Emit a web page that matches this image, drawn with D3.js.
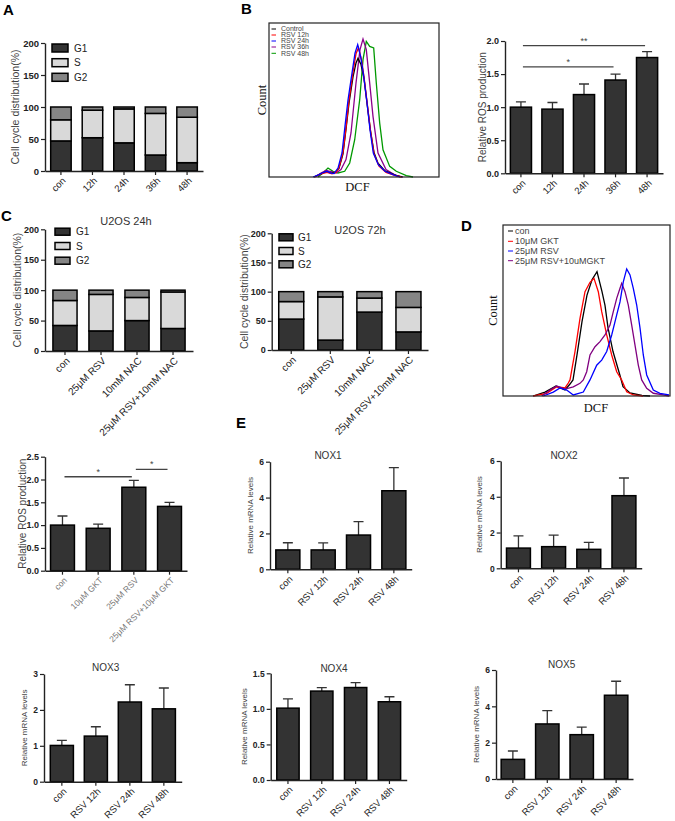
<!DOCTYPE html>
<html><head><meta charset="utf-8">
<script src="https://cdn.jsdelivr.net/npm/d3@7"></script>
<style>body{margin:0;background:#fff}</style>
</head><body>
<svg id="fig" width="675" height="821"></svg>
<script>
// ---------------- DATA ----------------
// Panel A: cell cycle over time
const timeCats = ["con","12h","24h","36h","48h"];
const phaseNames = ["G1","S","G2"];
const aG1 = [47,52,44,25,13];
const aS  = [33,43,53,65,71];
const aG2 = [20,5,3,10,16];

// Panel B: flow histograms (DCF arbitrary units, count)
const flowBNames = ["Control","RSV  12h","RSV  24h","RSV  36h","RSV  48h"];
const flowBControl = [[45,0],[52,2],[57,3.5],[62,2.5],[66,3],[70,5.5],[74,15],[77,31],[80,48],[84,65],[87,74],[89,77],[92,73],[95,64],[98,48],[101.5,30],[105,16],[109,9],[116,4],[125,1.5],[133,0]];
const flowB12h = [[45,0],[52,2],[58,3],[63,2],[67,3],[70,6],[74,16],[77,32],[80,50],[84,68],[87,80],[89.5,84],[92.5,76],[95,65],[98,49],[101.5,30],[105,15],[110,7],[117,3],[125,1.2],[132,0]];
const flowB24h = [[44,0],[50,1.5],[53,2.6],[58,3.7],[62,2.5],[65,2.2],[69,5.8],[73,15.6],[76,33],[79,50],[83,67.5],[86,80.5],[88.7,86],[91.7,78],[94.3,67.5],[97.7,50],[101,30.7],[104.3,15.6],[109.3,8],[116,3.7],[124,1.5],[131,0]];
const flowB36h = [[46,0],[52,2.5],[57,4.3],[62,3.5],[67,2.6],[72,4.8],[77,11.3],[82,28.6],[87,61],[91,82.7],[94,89.6],[97.3,82.7],[100.7,61],[104,39.4],[109,15.6],[117,4.8],[127,0.9],[134,0]];
const flowB48h = [[49,0],[54,2.6],[59,5.8],[64,3.7],[69,2.6],[75.7,3.7],[80.7,9.1],[85.7,24.2],[90.7,50.2],[94,76.2],[97.3,88],[100.7,84.8],[104.7,83.8],[107.3,61],[110.7,35],[114,17.7],[120.7,6.9],[127.3,3.7],[137.3,0.9],[144,0]];

// Panel B: relative ROS over time
const bRos   = [1.00,0.97,1.19,1.41,1.75];
const bRosSd = [0.08,0.10,0.16,0.09,0.09];

// Panel C: cell cycle with NAC
const cCats = ["con","25μM RSV","10mM NAC","25μM RSV+10mM NAC"];
const c24G1 = [42,33,50,37];
const c24S  = [41,60,38,60];
const c24G2 = [17,7,12,3];
const c72G1 = [53,17,65,31];
const c72S  = [30,74,24,42];
const c72G2 = [17,9,11,27];

// Panel D: flow histograms with GKT
const flowDNames = ["con","10μM GKT","25μM RSV","25μM RSV+10uMGKT"];
const flowDCon = [[30,0],[42,2.3],[53,5.8],[62,3.5],[67,7],[70,9.4],[74,24],[79,43.5],[84,59],[89,68],[94,72.7],[99,61],[102,53],[105,40],[110,26],[117,12],[120,5.4],[127,1.8],[139,0.3],[147,0]];
const flowDGkt = [[30.3,0],[43.7,1.6],[53.7,5.4],[62,4.7],[65.3,7.6],[67,9.4],[72,26],[77,45.4],[82,61],[87,66.5],[91,68.8],[95.3,61],[98.7,49.3],[103.7,35.7],[108.7,24],[113.7,14.2],[118.7,9.4],[123.7,2.5],[130.3,0.6],[140,0]];
const flowDRsv = [[40.3,0],[50.3,2.3],[57,4.7],[63.7,3.5],[70.3,0.6],[80.3,2.3],[87,9.4],[93.7,18],[98.7,21],[103.7,26],[108.7,35.7],[113.7,47.4],[117,55],[120.3,66.8],[123.7,74.3],[127,70.8],[130.3,63],[133.7,53.2],[137,39.8],[140.3,24],[143.7,12.3],[150.3,3.5],[157,1.6],[166,0.6]];
const flowDRsvGkt = [[38.7,0],[47,3.5],[53.7,5.8],[62,4],[70.3,5.3],[77,7.4],[80.3,9.4],[83.7,14.2],[87,24],[92,28.8],[97,31.8],[102,35.7],[107,41.5],[110.3,49.3],[113.7,57.1],[117,63],[118.7,65.9],[122,61],[125.3,53.2],[128.7,41.5],[132,29.8],[135.3,18.1],[138.7,9.4],[143.7,4.5],[150.3,1.6],[160.3,0.6],[166,0]];

// ROS with GKT
const gktCats = ["con","10μM GKT","25μM RSV","25μM RSV+10μM GKT"];
const gktRos   = [1.00,0.93,1.83,1.41];
const gktRosSd = [0.20,0.09,0.15,0.09];

// Panel E: NOX mRNA
const noxCats = ["con","RSV 12h","RSV 24h","RSV 48h"];
const nox1 = [1.08,1.08,1.91,4.38], nox1Sd = [0.40,0.39,0.75,1.29];
const nox2 = [1.13,1.21,1.06,4.06], nox2Sd = [0.68,0.65,0.39,0.99];
const nox3 = [1.01,1.27,2.22,2.03], nox3Sd = [0.14,0.26,0.48,0.58];
const nox4 = [1.01,1.25,1.30,1.10], nox4Sd = [0.13,0.05,0.07,0.07];
const nox5 = [1.08,3.03,2.44,4.61], nox5Sd = [0.46,0.73,0.42,0.77];

// ---------------- DRAWING ----------------
const svg = d3.select("#fig");
svg.append("rect").attr("width",675).attr("height",821).attr("fill","#fff");
const SANS = "'Liberation Sans', Arial, sans-serif";
const SERIF = "'Liberation Serif', 'Times New Roman', serif";
const BAR = "#333333", LIGHT = "#d9d9d9", MID = "#858585";

function panelLetter(t,x,y){
  svg.append("text").attr("x",x).attr("y",y).text(t)
    .attr("font-family",SANS).attr("font-weight","bold").attr("font-size",15).attr("fill","#000");
}

function frame(L){
  const x = d3.scaleBand().domain(L.cats).range([L.xL, L.xR])
    .paddingInner(L.pi ?? 0.33).paddingOuter(L.po ?? 0.17);
  const y = d3.scaleLinear().domain([0, L.max]).range([L.yB, L.yT]);
  return {x, y};
}

function drawAxes(g, L, x, y){
  const ya = g.append("g").attr("transform",`translate(${L.xL},0)`)
    .call(d3.axisLeft(y).tickValues(L.ticks).tickFormat(L.fmt).tickSizeInner(4).tickSizeOuter(0).tickPadding(2));
  const xa = g.append("g").attr("transform",`translate(0,${L.yB})`)
    .call(d3.axisBottom(x).tickSizeInner(4).tickSizeOuter(0).tickFormat(""));
  [ya, xa].forEach(a => {
    a.select(".domain").attr("stroke","#222").attr("stroke-width",1.4);
    a.selectAll(".tick line").attr("stroke","#222").attr("stroke-width",1.2);
  });
  ya.selectAll(".tick text").attr("font-family",SANS).attr("font-weight","bold")
    .attr("font-size",L.tickFs || 9).attr("fill","#222");
  g.selectAll(null).data(L.cats).join("text")
    .attr("transform", d => `translate(${x(d)+x.bandwidth()/2+3},${L.yB+8}) rotate(-45)`)
    .attr("text-anchor","end").attr("dy","0.35em")
    .attr("font-family",SANS).attr("font-size",L.xFs || 9).attr("fill",L.xColor || "#222")
    .text(d => d);
  g.append("text").attr("transform",`translate(${L.ytX},${(L.yB+L.yT)/2}) rotate(-90)`)
    .attr("text-anchor","middle").attr("dy","0.35em")
    .attr("font-family",SANS).attr("font-size",L.ytFs || 10).attr("fill","#444").text(L.ytitle);
  if (L.title) g.append("text").attr("x",L.titleX).attr("y",L.titleY).attr("text-anchor","middle")
    .attr("font-family",SANS).attr("font-size",L.titleFs || 10).attr("fill","#333").text(L.title);
}

function barChart(L, vals, sds, sigs){
  const g = svg.append("g");
  const {x, y} = frame(L);
  const rows = L.cats.map((c,i) => ({c, v: vals[i], sd: sds[i]}));
  const cap = 5;
  g.selectAll(null).data(rows).join("path")
    .attr("d", d => {
      const cx = x(d.c) + x.bandwidth()/2;
      return `M${cx},${y(d.v)}V${y(d.v+d.sd)}M${cx-cap},${y(d.v+d.sd)}H${cx+cap}`;
    })
    .attr("stroke","#333").attr("stroke-width",1.3).attr("fill","none");
  g.selectAll(null).data(rows).join("rect")
    .attr("x", d => x(d.c)).attr("width", x.bandwidth())
    .attr("y", d => y(d.v)).attr("height", d => y(0) - y(d.v))
    .attr("fill", BAR).attr("stroke","#000").attr("stroke-width",1.5);
  drawAxes(g, L, x, y);
  (sigs || []).forEach(s => {
    const x1 = x(L.cats[s.from]) + x.bandwidth()/2 + 2;
    const x2 = x(L.cats[s.to]) + x.bandwidth()/2 - 2;
    g.append("line").attr("x1",x1).attr("x2",x2).attr("y1",y(s.val)).attr("y2",y(s.val))
      .attr("stroke","#444").attr("stroke-width",1.3);
    g.append("text").attr("x",(x1+x2)/2).attr("y",y(s.val)-2).attr("text-anchor","middle")
      .attr("font-family",SANS).attr("font-size",9).attr("fill","#444").text(s.label);
  });
}

function stackedChart(L, g1, s, g2, leg){
  const g = svg.append("g");
  const {x, y} = frame(L);
  const rows = L.cats.map((c,i) => ({c, G1: g1[i], S: s[i], G2: g2[i]}));
  const stack = d3.stack().keys(phaseNames)(rows);
  const colors = {G1: BAR, S: LIGHT, G2: MID};
  stack.forEach(layer => {
    g.selectAll(null).data(layer).join("rect")
      .attr("x", d => x(d.data.c)).attr("width", x.bandwidth())
      .attr("y", d => y(d[1])).attr("height", d => y(d[0]) - y(d[1]))
      .attr("fill", colors[layer.key]).attr("stroke","#000").attr("stroke-width",1.5);
  });
  drawAxes(g, L, x, y);
  phaseNames.forEach((p,i) => {
    g.append("rect").attr("x",leg.x).attr("y",leg.ys[i]-leg.h/2).attr("width",leg.w).attr("height",leg.h)
      .attr("fill",colors[p]).attr("stroke","#000").attr("stroke-width",1.5);
    g.append("text").attr("x",leg.tx).attr("y",leg.ys[i]).attr("dy","0.35em")
      .attr("font-family",SANS).attr("font-size",leg.fs).attr("fill","#222").text(p);
  });
}

function flowPlot(B, series, names, colors, order, leg){
  const g = svg.append("g");
  const x = d3.scaleLinear().domain([0, B.dmax]).range([B.xL, B.xR]);
  const y = d3.scaleLinear().domain([0, 100]).range([B.yB, B.yT]);
  const line = d3.line().x(d => x(d[0])).y(d => y(d[1]));
  order.forEach(i => {
    g.append("path").attr("d", line(series[i])).attr("fill","none")
      .attr("stroke", colors[i]).attr("stroke-width",1.3);
  });
  g.append("rect").attr("x",B.xL).attr("y",B.yT).attr("width",B.xR-B.xL).attr("height",B.yB-B.yT)
    .attr("fill","none").attr("stroke","#222").attr("stroke-width",1.2);
  names.forEach((n,i) => {
    g.append("line").attr("x1",leg.lx1).attr("x2",leg.lx2).attr("y1",leg.ys[i]).attr("y2",leg.ys[i])
      .attr("stroke",colors[i]).attr("stroke-width",1);
    g.append("text").attr("x",leg.tx).attr("y",leg.ys[i]).attr("dy","0.35em")
      .attr("font-family",SANS).attr("font-size",leg.fs).attr("fill","#444").text(n);
  });
  g.append("text").attr("transform",`translate(${B.countX},${(B.yT+B.yB)/2}) rotate(-90)`)
    .attr("text-anchor","middle").attr("dy","0.35em")
    .attr("font-family",SERIF).attr("font-size",12.5).attr("fill","#111").text("Count");
  g.append("text").attr("x",B.dcfX).attr("y",B.dcfY).attr("text-anchor","middle")
    .attr("font-family",SERIF).attr("font-size",12.5).attr("fill","#111").text("DCF");
}

// Panel letters
panelLetter("A",3,15);
panelLetter("B",241,13.5);
panelLetter("C",1,221);
panelLetter("D",461,231);
panelLetter("E",236,428);

// Panel A
stackedChart({cats:timeCats, xL:45, xR:203, yB:171, yT:43, max:200, ticks:[0,50,100,150,200],
  fmt:d3.format("d"), ytitle:"Cell cycle distribution(%)", ytX:15, ytFs:10.5, pi:0.35, po:0.18, tickFs:9.5, xFs:9.5},
  aG1, aS, aG2, {x:52, w:16, h:8, ys:[48,62.7,77.3], tx:74, fs:10});

// Panel B flow
flowPlot({xL:269, xR:439, yT:23, yB:177, dmax:170, countX:262, dcfX:357.5, dcfY:191},
  [flowBControl, flowB12h, flowB24h, flowB36h, flowB48h], flowBNames,
  ["#000000","#ff0000","#0000ff","#8b008b","#009900"], [4,3,0,1,2],
  {lx1:271.5, lx2:276, tx:281, ys:[29,35,41,47,53.3], fs:7});

// Panel B ROS bar
barChart({cats:timeCats, xL:505, xR:663, yB:173.3, yT:41, max:2, ticks:[0,0.5,1,1.5,2],
  fmt:d3.format(".1f"), ytitle:"Relative ROS production", ytX:482, pi:0.33, po:0.17, xFs:9.5},
  bRos, bRosSd, [{from:0,to:4,val:1.93,label:"**"},{from:0,to:3,val:1.61,label:"*"}]);

// Panel C
stackedChart({cats:cCats, xL:45, xR:193, yB:351, yT:229.3, max:200, ticks:[0,50,100,150,200],
  fmt:d3.format("d"), ytitle:"Cell cycle distribution(%)", ytX:17.5, ytFs:10.5, pi:0.33, po:0.22, xFs:10,
  title:"U2OS 24h", titleX:126, titleY:225, titleFs:11},
  c24G1, c24S, c24G2, {x:55, w:15, h:7, ys:[231.7,246,260.7], tx:76, fs:10});
stackedChart({cats:cCats, xL:271.7, xR:428, yB:350, yT:233.3, max:200, ticks:[0,50,100,150,200],
  fmt:d3.format("d"), ytitle:"Cell cycle distribution(%)", ytX:244, ytFs:10.5, pi:0.36, po:0.18, xFs:10,
  title:"U2OS 72h", titleX:360, titleY:234, titleFs:11},
  c72G1, c72S, c72G2, {x:279, w:14, h:7, ys:[237.3,251,264.3], tx:298, fs:10});

// Panel D flow
flowPlot({xL:503, xR:670, yT:225, yB:396, dmax:167, countX:493, dcfX:596, dcfY:412},
  [flowDCon, flowDGkt, flowDRsv, flowDRsvGkt], flowDNames,
  ["#000000","#ff0000","#0000ff","#800080"], [0,1,3,2],
  {lx1:508, lx2:513, tx:515, ys:[231,241.3,251,260.7], fs:9});

// ROS with GKT
barChart({cats:gktCats, xL:45, xR:187, yB:570.7, yT:456.7, max:2.5, ticks:[0,0.5,1,1.5,2,2.5],
  fmt:d3.format(".1f"), ytitle:"Relative ROS production", ytX:22, pi:0.33, po:0.155,
  xFs:8.5, xColor:"#777"},
  gktRos, gktRosSd, [{from:0,to:2,val:2.06,label:"*"},{from:2,to:3,val:2.22,label:"*"}]);

// Panel E: NOX
const noxCommon = {cats:noxCats, fmt:d3.format("d"), ytitle:"Relative mRNA levels", ytFs:8, tickFs:8.5, xFs:9.5, titleFs:10};
barChart({...noxCommon, xL:270, xR:411.7, yB:569.3, yT:461.7, max:6, ticks:[0,2,4,6], ytX:250.5,
  pi:0.32, po:0.165, title:"NOX1", titleX:328, titleY:459}, nox1, nox1Sd);
barChart({...noxCommon, xL:500.7, xR:641.7, yB:568.3, yT:461, max:6, ticks:[0,2,4,6], ytX:479,
  pi:0.32, po:0.165, title:"NOX2", titleX:564, titleY:459}, nox2, nox2Sd);
barChart({...noxCommon, xL:44, xR:181.7, yB:781.7, yT:674, max:3, ticks:[0,1,2,3], ytX:24.5,
  pi:0.32, po:0.185, title:"NOX3", titleX:105.7, titleY:671}, nox3, nox3Sd);
barChart({...noxCommon, fmt:d3.format(".1f"), xL:270.7, xR:406.7, yB:780, yT:673.3, max:1.5, ticks:[0,0.5,1,1.5], ytX:244,
  pi:0.34, po:0.18, title:"NOX4", titleX:334, titleY:672}, nox4, nox4Sd);
barChart({...noxCommon, xL:496, xR:633, yB:779, yT:670, max:6, ticks:[0,2,4,6], ytX:476,
  pi:0.32, po:0.15, title:"NOX5", titleX:561.7, titleY:668}, nox5, nox5Sd);
</script>
</body></html>
